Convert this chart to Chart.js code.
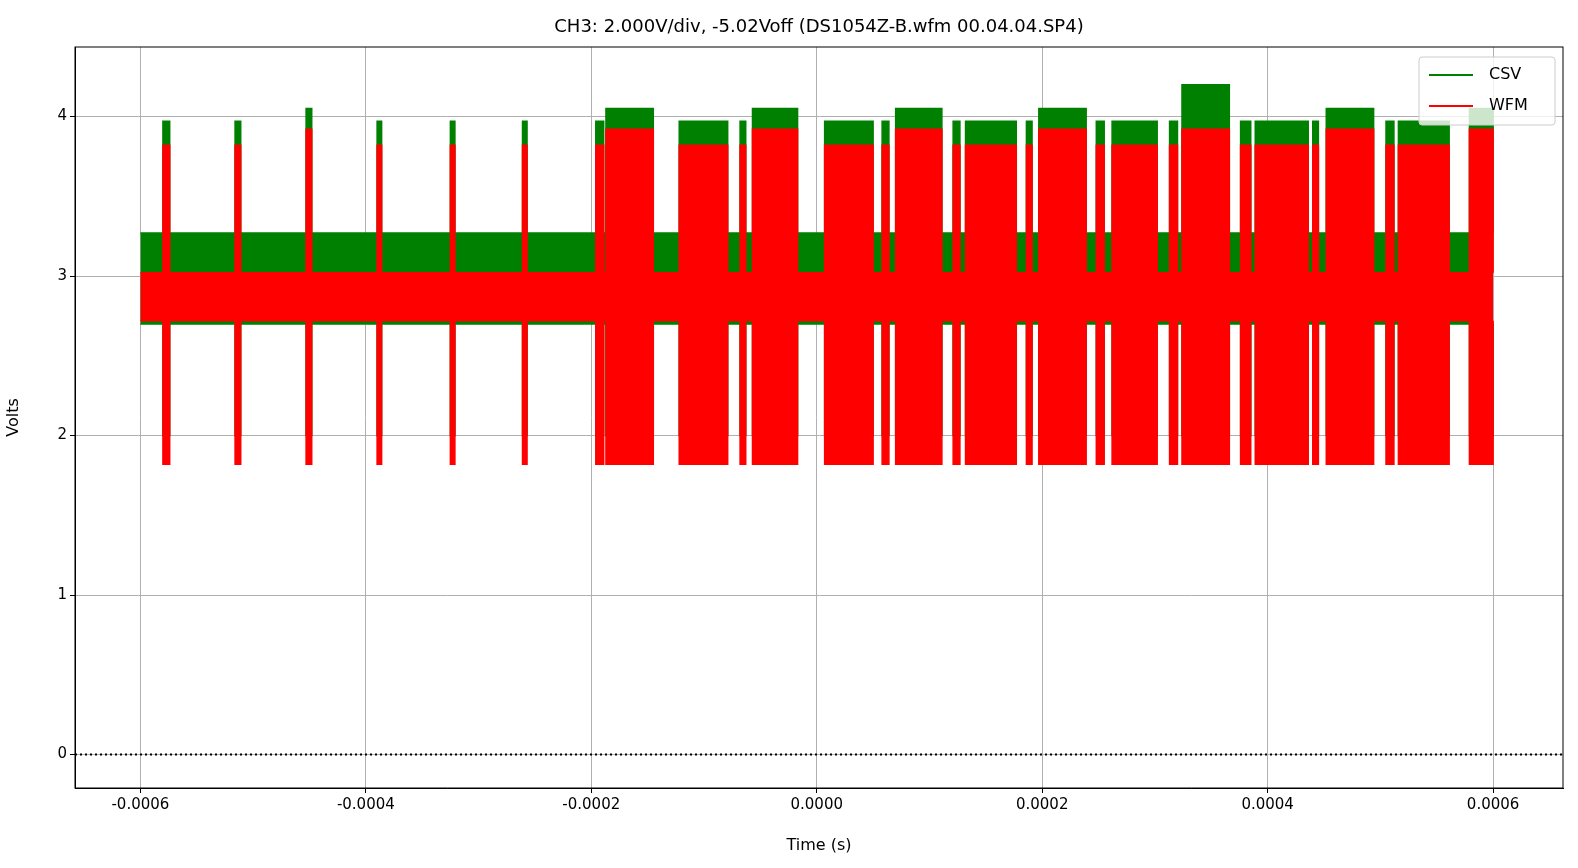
<!DOCTYPE html>
<html><head><meta charset="utf-8">
<script src="https://cdn.jsdelivr.net/npm/chart.js@4/dist/chart.umd.min.js"></script>
<style>html,body{margin:0;background:#fff;overflow:hidden}#wrap{width:1578px;height:868px}</style>
</head><body><div id="wrap"><canvas id="c"></canvas></div>
<script>
// burst segments (seconds)
const burstStart = [-5.80,-5.16,-4.53,-3.90,-3.25,-2.61,-1.96,-1.87,-1.22,-0.68,-0.57,0.07,0.58,0.70,1.21,1.32,1.86,1.97,2.48,2.62,3.13,3.24,3.76,3.89,4.40,4.52,5.05,5.16,5.79].map(v => v * 1e-4);
const burstEnd = [-5.74,-5.11,-4.48,-3.86,-3.21,-2.57,-1.89,-1.45,-0.79,-0.63,-0.17,0.50,0.64,1.11,1.27,1.77,1.91,2.39,2.55,3.02,3.20,3.66,3.85,4.36,4.45,4.94,5.12,5.61,6.00].map(v => v * 1e-4);
const csvTop = [3.97,3.97,4.05,3.97,3.97,3.97,3.97,4.05,3.97,3.97,4.05,3.97,3.97,4.05,3.97,3.97,3.97,4.05,3.97,3.97,3.97,4.20,3.97,3.97,3.97,4.05,3.97,3.97,4.05];
const wfmTop = [3.82,3.82,3.92,3.82,3.82,3.82,3.82,3.92,3.82,3.82,3.92,3.82,3.82,3.92,3.82,3.82,3.82,3.92,3.82,3.82,3.82,3.92,3.82,3.82,3.82,3.92,3.82,3.82,3.92];
const csvBase = [2.70, 3.27];   // quiet band low/high
const wfmBase = [2.72, 3.02];
const csvBurstLow = 2.0;
const wfmBurstLow = 1.82;
const tStart = -6e-4, tEnd = 6e-4;
const xTicks = [-0.0006, -0.0004, -0.0002, 0, 0.0002, 0.0004, 0.0006];
const yTicks = [0, 1, 2, 3, 4];

function envelope(base, tops, burstLow) {
    const up = [], lo = [];
    up.push({x: tStart, y: base[1]}); lo.push({x: tStart, y: base[0]});
    burstStart.forEach((s, i) => {
        const e = burstEnd[i];
        up.push({x: s, y: base[1]}, {x: s, y: tops[i]}, {x: e, y: tops[i]}, {x: e, y: base[1]});
        lo.push({x: s, y: base[0]}, {x: s, y: burstLow}, {x: e, y: burstLow}, {x: e, y: base[0]});
    });
    if (burstEnd[burstEnd.length - 1] < tEnd) {
        up.push({x: tEnd, y: base[1]}); lo.push({x: tEnd, y: base[0]});
    }
    return [up, lo];
}
const [csvUp, csvLo] = envelope(csvBase, csvTop, csvBurstLow);
const [wfmUp, wfmLo] = envelope(wfmBase, wfmTop, wfmBurstLow);

const GREEN = '#008000', RED = '#ff0000';
const font = {family: 'DejaVu Sans', size: 15};

const extras = {
    id: 'extras',
    afterDraw(chart) {
        const c = chart.ctx, a = chart.chartArea;
        c.save();
        c.strokeStyle = '#000'; c.lineWidth = 1;
        c.strokeRect(a.left, a.top, a.right - a.left, a.bottom - a.top);
        c.fillStyle = '#000'; c.font = '18px DejaVu Sans'; c.textAlign = 'center'; c.textBaseline = 'middle';
        c.fillText('CH3: 2.000V/div, -5.02Voff (DS1054Z-B.wfm 00.04.04.SP4)', (a.left + a.right) / 2, 27);
        // legend
        const bx = a.right - 144, by = a.top + 10;
        c.fillStyle = 'rgba(255,255,255,0.8)'; c.strokeStyle = '#ccc'; c.lineWidth = 1;
        c.beginPath(); c.roundRect(bx, by, 136, 68, 3); c.fill(); c.stroke();
        [['CSV', GREEN], ['WFM', RED]].forEach(([l, col], i) => {
            const y = by + 18 + i * 31;
            c.strokeStyle = col; c.lineWidth = 2;
            c.beginPath(); c.moveTo(bx + 10, y); c.lineTo(bx + 54, y); c.stroke();
            c.fillStyle = '#000'; c.textAlign = 'left'; c.font = '16px DejaVu Sans';
            c.fillText(l, bx + 70, y);
        });
        c.restore();
    },
    beforeDatasetsDraw(chart) {
        const c = chart.ctx, a = chart.chartArea, y = chart.scales.y.getPixelForValue(0);
        c.save(); c.strokeStyle = '#000'; c.lineWidth = 2; c.setLineDash([2, 3]);
        c.beginPath(); c.moveTo(a.left, y); c.lineTo(a.right, y); c.stroke(); c.restore();
    }
};

new Chart(document.getElementById('c'), {
    type: 'line',
    data: {datasets: [
        {label: 'CSV', data: csvUp, borderColor: GREEN, backgroundColor: GREEN, fill: '+1', order: 2},
        {label: 'CSVlo', data: csvLo, borderColor: GREEN, fill: false, order: 2},
        {label: 'WFM', data: wfmUp, borderColor: RED, backgroundColor: RED, fill: '+1', order: 1},
        {label: 'WFMlo', data: wfmLo, borderColor: RED, fill: false, order: 1}
    ]},
    options: {
        responsive: true, maintainAspectRatio: false, animation: false,
        elements: {point: {radius: 0}, line: {borderWidth: 1.5, tension: 0}},
        layout: {padding: {top: 47, right: 15, left: 0, bottom: 0}},
        plugins: {legend: {display: false}, tooltip: {enabled: false}},
        scales: {
            x: {type: 'linear', min: -0.000658, max: 0.000662,
                afterBuildTicks: s => { s.ticks = xTicks.map(v => ({value: v})); },
                afterFit: s => { s.height = 80; },
                ticks: {font, color: '#000', maxRotation: 0, callback: v => v.toFixed(4)},
                grid: {color: '#b0b0b0', tickColor: '#000', tickLength: 5},
                border: {color: '#000'},
                title: {display: true, text: 'Time (s)', font: {family: 'DejaVu Sans', size: 16}, color: '#000', padding: {top: 0, bottom: 13}}},
            y: {min: -0.21, max: 4.436,
                afterBuildTicks: s => { s.ticks = yTicks.map(v => ({value: v})); },
                afterFit: s => { s.width = 75; },
                ticks: {font, color: '#000'},
                grid: {color: '#b0b0b0', tickColor: '#000', tickLength: 5},
                border: {color: '#000'},
                title: {display: true, text: 'Volts', font: {family: 'DejaVu Sans', size: 16}, color: '#000'}}
        }
    },
    plugins: [extras]
});
</script></body></html>
